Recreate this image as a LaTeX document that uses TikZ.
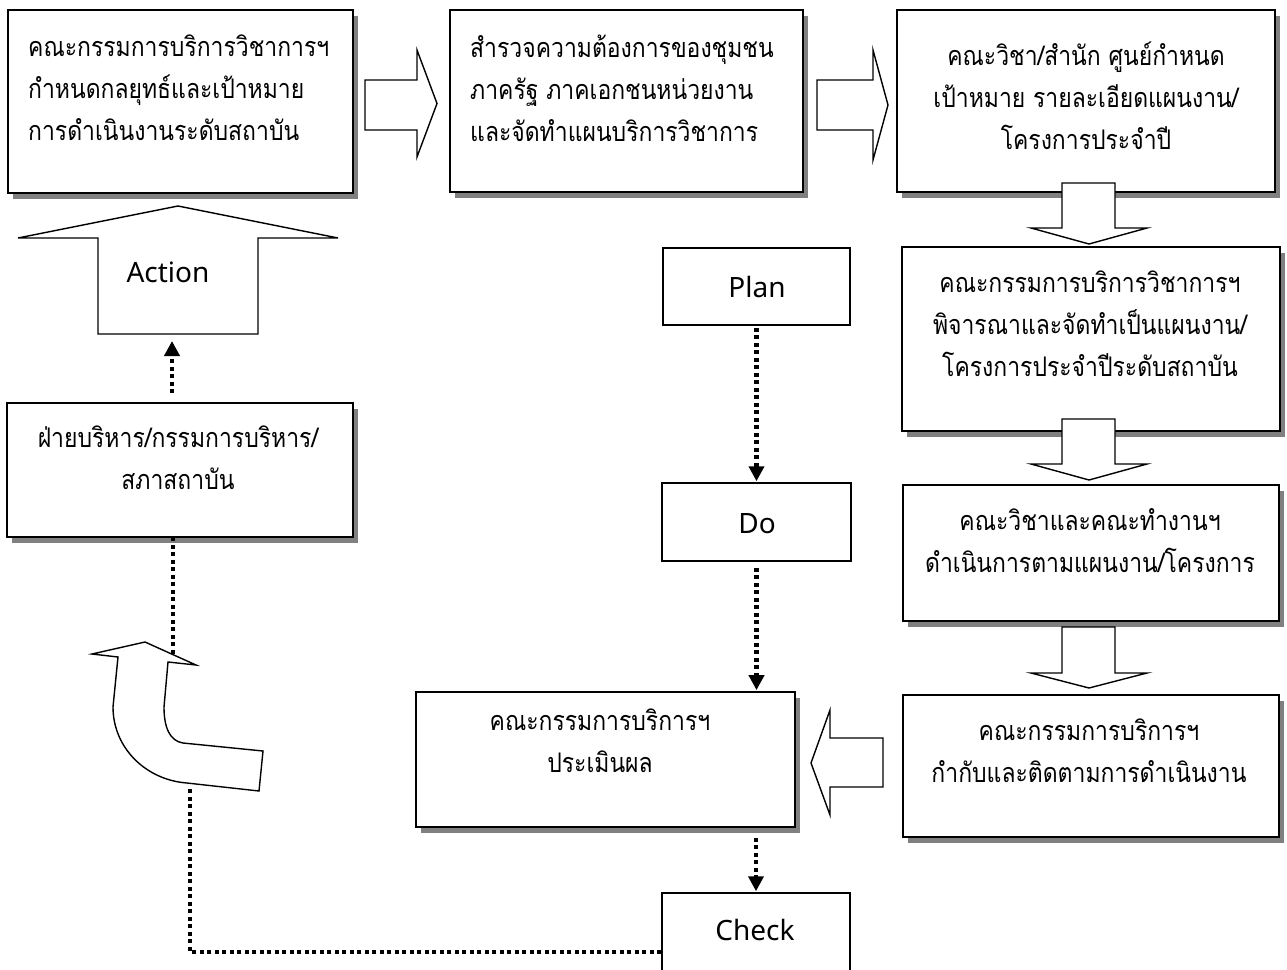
\documentclass[tikz,border=0pt]{standalone}
\usepackage{fontspec}
\usetikzlibrary{shadows,arrows.meta}
\newfontfamily\thaifont[Script=Thai, FakeStretch=0.85]{Loma}
\newfontfamily\latfont{Noto Sans}
\begin{document}
\begin{tikzpicture}[x=1pt,y=-1pt,
  box/.style={draw, line width=1.7pt, fill=white, inner sep=0pt,
    drop shadow={shadow xshift=5pt, shadow yshift=-6pt, fill=black!50, opacity=1}},
  pbox/.style={draw, line width=1.5pt, fill=white, inner sep=0pt},
  blk/.style={draw, line width=1.4pt, fill=white, line join=miter},
  dots/.style={line width=4.5pt, dash pattern=on 4pt off 3.5pt},
  tipa/.style={-{Triangle[width=15pt,length=15pt]}},
  th/.style={font={\thaifont\fontsize{27}{42}\selectfont}, inner sep=0pt},
  en/.style={font={\latfont\fontsize{28}{32}\selectfont}, inner sep=0pt, anchor=base},
]
\clip (0,0) rectangle (1287,969);
\fill[white] (0,0) rectangle (1287,969);

% boxes
\node[box, minimum width=345pt, minimum height=183pt] (b1) at (180.5,101.5) {};
\node[box, minimum width=353pt, minimum height=182pt] (b2) at (626.5,101) {};
\node[box, minimum width=378pt, minimum height=182pt] (b3) at (1086,101) {};
\node[box, minimum width=378pt, minimum height=184pt] (b4) at (1091,339) {};
\node[box, minimum width=376pt, minimum height=136pt] (b5) at (1091,553) {};
\node[box, minimum width=376pt, minimum height=142pt] (b6) at (1091,766) {};
\node[box, minimum width=379pt, minimum height=135pt] (b7) at (605.5,759.5) {};
\node[box, minimum width=346pt, minimum height=134pt] (b8) at (180,470) {};
\node[pbox, minimum width=187pt, minimum height=77pt] (plan) at (756.5,286.5) {};
\node[pbox, minimum width=189pt, minimum height=78pt] (do) at (756.5,522) {};
\node[pbox, minimum width=188pt, minimum height=92pt] (check) at (756,939) {};

% coordinates for connector ends
\coordinate (actB) at (172,334);
\coordinate (b8T) at (172,403);
\coordinate (b8B) at (173,537);
\coordinate (curvTop) at (173,655);
\coordinate (curvBot) at (190,787);
\coordinate (chkL) at (check.west |- 0,952);

% dotted connectors
\draw[dots, tipa, shorten <=10pt, shorten >=7pt] (b8T) -- (actB);
\draw[dots, tipa, shorten <=2pt, shorten >=1pt] (plan.south) -- (do.north);
\draw[dots, tipa, shorten <=6pt, shorten >=1pt] (do.south) -- (b7.north -| do.south);
\draw[dots, tipa, shorten <=10pt, shorten >=1pt] (b7.south -| check.north) -- (check.north);
\draw[dots] (b8B) -- (curvTop);
\draw[dots] (chkL) -| (curvBot);

% block arrows
\draw[blk] (365,80) -- (417,80) -- (417,50) -- (437,103.5) -- (417,157) -- (417,130) -- (365,130) -- cycle;
\draw[blk] (817,80) -- (873,80) -- (873,50) -- (888,105) -- (873,160) -- (873,130) -- (817,130) -- cycle;
\draw[blk] (1062,183) -- (1115,183) -- (1115,228) -- (1147,228) -- (1089,244) -- (1031,228) -- (1062,228) -- cycle;
\draw[blk] (1062,419) -- (1115,419) -- (1115,464) -- (1147,464) -- (1089,480) -- (1031,464) -- (1062,464) -- cycle;
\draw[blk] (1062,627) -- (1115,627) -- (1115,673) -- (1147,673) -- (1089,688) -- (1031,673) -- (1062,673) -- cycle;
\draw[blk] (883,738) -- (830,738) -- (830,710) -- (811,763) -- (830,815) -- (830,787) -- (883,787) -- cycle;
\draw[blk] (178,206) -- (338,238) -- (258,238) -- (258,334) -- (98,334) -- (98,238) -- (18,238) -- cycle;
\draw[blk] (92,654) -- (145,642) -- (196,665) -- (168,662) -- (164,707)
  .. controls (164,728) and (170,741) .. (183,743) -- (263,751) -- (259,791) -- (187,783)
  .. controls (146,780) and (113,748) .. (113,707) -- (118,657) -- cycle;

% texts
\node[th, anchor=north west, align=left] (t1) at (28,20) {\rule{0pt}{36pt}คณะกรรมการบริการวิชาการฯ\\กำหนดกลยุทธ์และเป้าหมาย\\การดำเนินงานระดับสถาบัน};
\node[th, anchor=north west, align=left] (t2) at (470,21) {\rule{0pt}{36pt}สำรวจความต้องการของชุมชน\\ภาครัฐ ภาคเอกชนหน่วยงาน\\และจัดทำแผนบริการวิชาการ};
\node[th, anchor=north, align=center] (t3) at (1086,29) {\rule{0pt}{36pt}คณะวิชา/สำนัก ศูนย์กำหนด\\เป้าหมาย รายละเอียดแผนงาน/\\โครงการประจำปี};
\node[th, anchor=north, align=center] (t4) at (1090,256) {\rule{0pt}{36pt}คณะกรรมการบริการวิชาการฯ\\พิจารณาและจัดทำเป็นแผนงาน/\\โครงการประจำปีระดับสถาบัน};
\node[th, anchor=north, align=center] (t5) at (1090,494) {\rule{0pt}{36pt}คณะวิชาและคณะทำงานฯ\\ดำเนินการตามแผนงาน/โครงการ};
\node[th, anchor=north, align=center] (t6) at (1089,704) {\rule{0pt}{36pt}คณะกรรมการบริการฯ\\กำกับและติดตามการดำเนินงาน};
\node[th, anchor=north, align=center] (t7) at (600,694) {\rule{0pt}{36pt}คณะกรรมการบริการฯ\\ประเมินผล};
\node[th, anchor=north, align=center] (t8) at (178,411) {\rule{0pt}{36pt}ฝ่ายบริหาร/กรรมการบริหาร/\\สภาสถาบัน};

\node[en] (ta) at (168,282) {Action};
\node[en] (tp) at (757,297) {Plan};
\node[en] (td) at (757,533) {Do};
\node[en] (tc) at (755,940) {Check};
\end{tikzpicture}
\end{document}
